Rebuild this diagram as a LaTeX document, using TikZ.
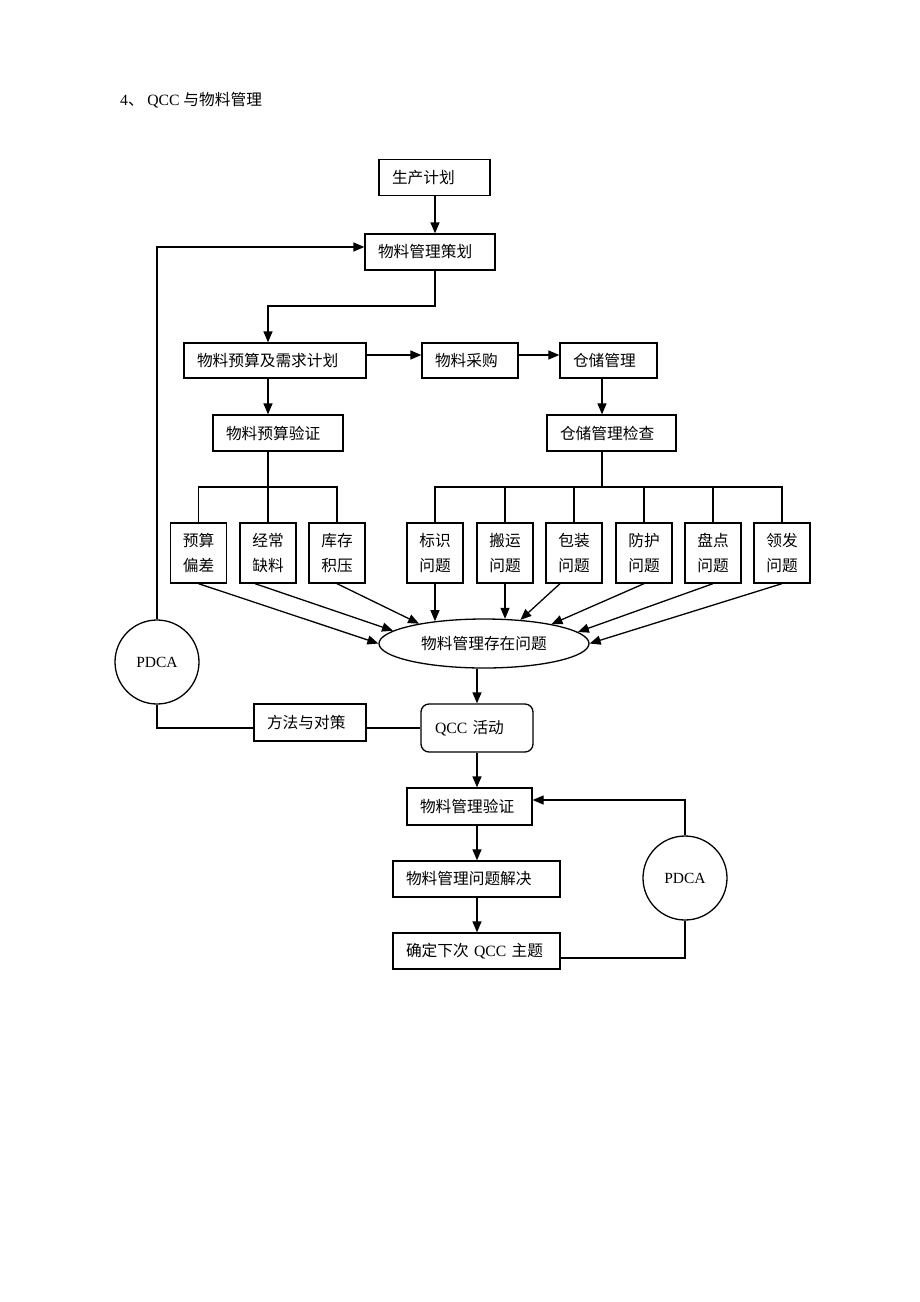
\documentclass[tikz,border=0pt]{standalone}
\usepackage{fontspec}
\setmainfont{Liberation Serif}
\newfontfamily\cjk{Noto Sans CJK SC}
\newfontfamily\lat{Liberation Serif}
\usetikzlibrary{arrows.meta,shapes.geometric,calc}
\tikzset{
  txt/.style={font=\cjk\fontsize{15.7}{18}\selectfont},
  box/.style={txt, draw, line width=1.3pt, inner xsep=13pt, inner ysep=0pt, minimum height=36pt, align=left},
  sbox/.style={draw, line width=1.3pt, minimum width=56pt, minimum height=60pt, inner sep=0pt, align=center, font=\cjk\fontsize{15.7}{25}\selectfont},
  ell/.style={txt, draw, ellipse, line width=1.3pt, minimum width=210pt, minimum height=49pt, inner sep=0pt},
  circ/.style={draw, circle, line width=1.3pt, minimum size=84pt, inner sep=0pt, font=\lat\fontsize{15.5}{18}\selectfont},
  ln/.style={line width=1.3pt},
  arr/.style={line width=1.3pt, -{Triangle[length=11pt,width=9pt]}}
}
\begin{document}
\begin{tikzpicture}[x=1pt,y=-1pt]
\useasboundingbox (0,0) rectangle (920,1302);
\fill[white] (0,0) rectangle (920,1302);

\node[txt, anchor=west, inner sep=0pt] (title) at (120,100) {{\lat 4}、 {\lat QCC }与物料管理};

\node[box, text width=85pt] (plan) at (434.5,177.5) {生产计划};
\node[box, text width=104pt] (cehua) at (430,252) {物料管理策划};
\node[box, text width=156pt, minimum height=35pt] (yusuan) at (275,360.5) {物料预算及需求计划};
\node[box, text width=70pt, minimum height=35pt] (caigou) at (470,360.5) {物料采购};
\node[box, text width=71pt, minimum height=35pt] (cangchu) at (608.5,360.5) {仓储管理};
\node[box, text width=104pt] (yanzheng) at (278,433) {物料预算验证};
\node[box, text width=103pt] (jiancha) at (611.5,433) {仓储管理检查};

\node[sbox] (a1) at (198.5,553) {预算\\偏差};
\node[sbox] (a2) at (268,553) {经常\\缺料};
\node[sbox] (a3) at (337,553) {库存\\积压};
\node[sbox] (a4) at (435,553) {标识\\问题};
\node[sbox] (a5) at (505,553) {搬运\\问题};
\node[sbox] (a6) at (574,553) {包装\\问题};
\node[sbox] (a7) at (644,553) {防护\\问题};
\node[sbox] (a8) at (713,553) {盘点\\问题};
\node[sbox] (a9) at (782,553) {领发\\问题};

\node[ell] (e) at (484,643.5) {物料管理存在问题};

\node[circ] (p1) at (157,662) {PDCA};
\node[box, text width=86pt, minimum height=37pt] (fangfa) at (310,722.5) {方法与对策};
\node[box, text width=84pt, inner xsep=14pt, minimum height=48pt, rounded corners=8pt] (qcc) at (477,728) {{\lat QCC }活动};

\node[box, text width=99pt, minimum height=37pt] (ver) at (469.5,806.5) {物料管理验证};
\node[box, text width=141pt] (solve) at (476.5,879) {物料管理问题解决};
\node[box, text width=141pt] (next) at (476.5,951) {确定下次{\lat\ QCC }主题};
\node[circ] (p2) at (685,878) {PDCA};

% coordinates
\coordinate (j0) at (435,306);
\coordinate (j1) at (268,306);
\coordinate (r1) at (0,355);
\coordinate (t1) at (268,487);
\coordinate (t2) at (602,487);
\coordinate (l1) at (157,247);
\coordinate (l2) at (157,728);
\coordinate (m) at (477,0);
\coordinate (r2) at (685,800);
\coordinate (r3) at (685,958);

% top flow
\draw[arr] (j0 |- plan.south) -- (j0 |- cehua.north);
\draw[arr] (j0 |- cehua.south) -- (j0) -- (j1) -- (j1 |- yusuan.north);
\draw[arr] (yusuan.east |- r1) -- (caigou.west |- r1);
\draw[arr] (caigou.east |- r1) -- (cangchu.west |- r1);
\draw[arr] (j1 |- yusuan.south) -- (j1 |- yanzheng.north);
\draw[arr] (t2 |- cangchu.south) -- (t2 |- jiancha.north);

% trees
\draw[ln] (t1 |- yanzheng.south) -- (t1);
\draw[ln] (a1.north) -- (a1.north |- t1) -- (a3.north |- t1) -- (a3.north);
\draw[ln] (a2.north) -- (a2.north |- t1);
\draw[ln] (t2 |- jiancha.south) -- (t2);
\draw[ln] (a4.north) -- (a4.north |- t2) -- (a9.north |- t2) -- (a9.north);
\draw[ln] (a5.north) -- (a5.north |- t2);
\draw[ln] (a6.north) -- (a6.north |- t2);
\draw[ln] (a7.north) -- (a7.north |- t2);
\draw[ln] (a8.north) -- (a8.north |- t2);

% arrows into ellipse
\draw[arr] (a1.south) -- (e.180);
\draw[arr] ([xshift=-13pt]a2.south) -- (e.172.4);
\draw[arr] (a3.south) -- (e.163);
\draw[arr] (a4.south) -- ($(e.center)+(-49,-22.3)$);
\draw[arr] (a5.south) -- ($(e.center)+(21,-24.7)$);
\draw[arr] ([xshift=-14pt]a6.south) -- (e.33.4);
\draw[arr] (a7.south) -- (e.16.9);
\draw[arr] (a8.south) -- (e.7);
\draw[arr] (a9.south) -- (e.0);

% lower flow
\draw[arr] (m |- e.south) -- (qcc.north);
\draw[arr] (qcc.south) -- (m |- ver.north);
\draw[arr] (m |- ver.south) -- (m |- solve.north);
\draw[arr] (m |- solve.south) -- (m |- next.north);

% left PDCA loop
\draw[arr] (p1.north) -- (l1) -- (cehua.west |- l1);
\draw[ln] (p1.south) -- (l2) -- (fangfa.west |- l2);
\draw[ln] (fangfa.east |- l2) -- (qcc.west);

% right PDCA loop
\draw[arr] (p2.north) -- (r2) -- (ver.east |- r2);
\draw[ln] (p2.south) -- (r3) -- (next.east |- r3);
\end{tikzpicture}
\end{document}
